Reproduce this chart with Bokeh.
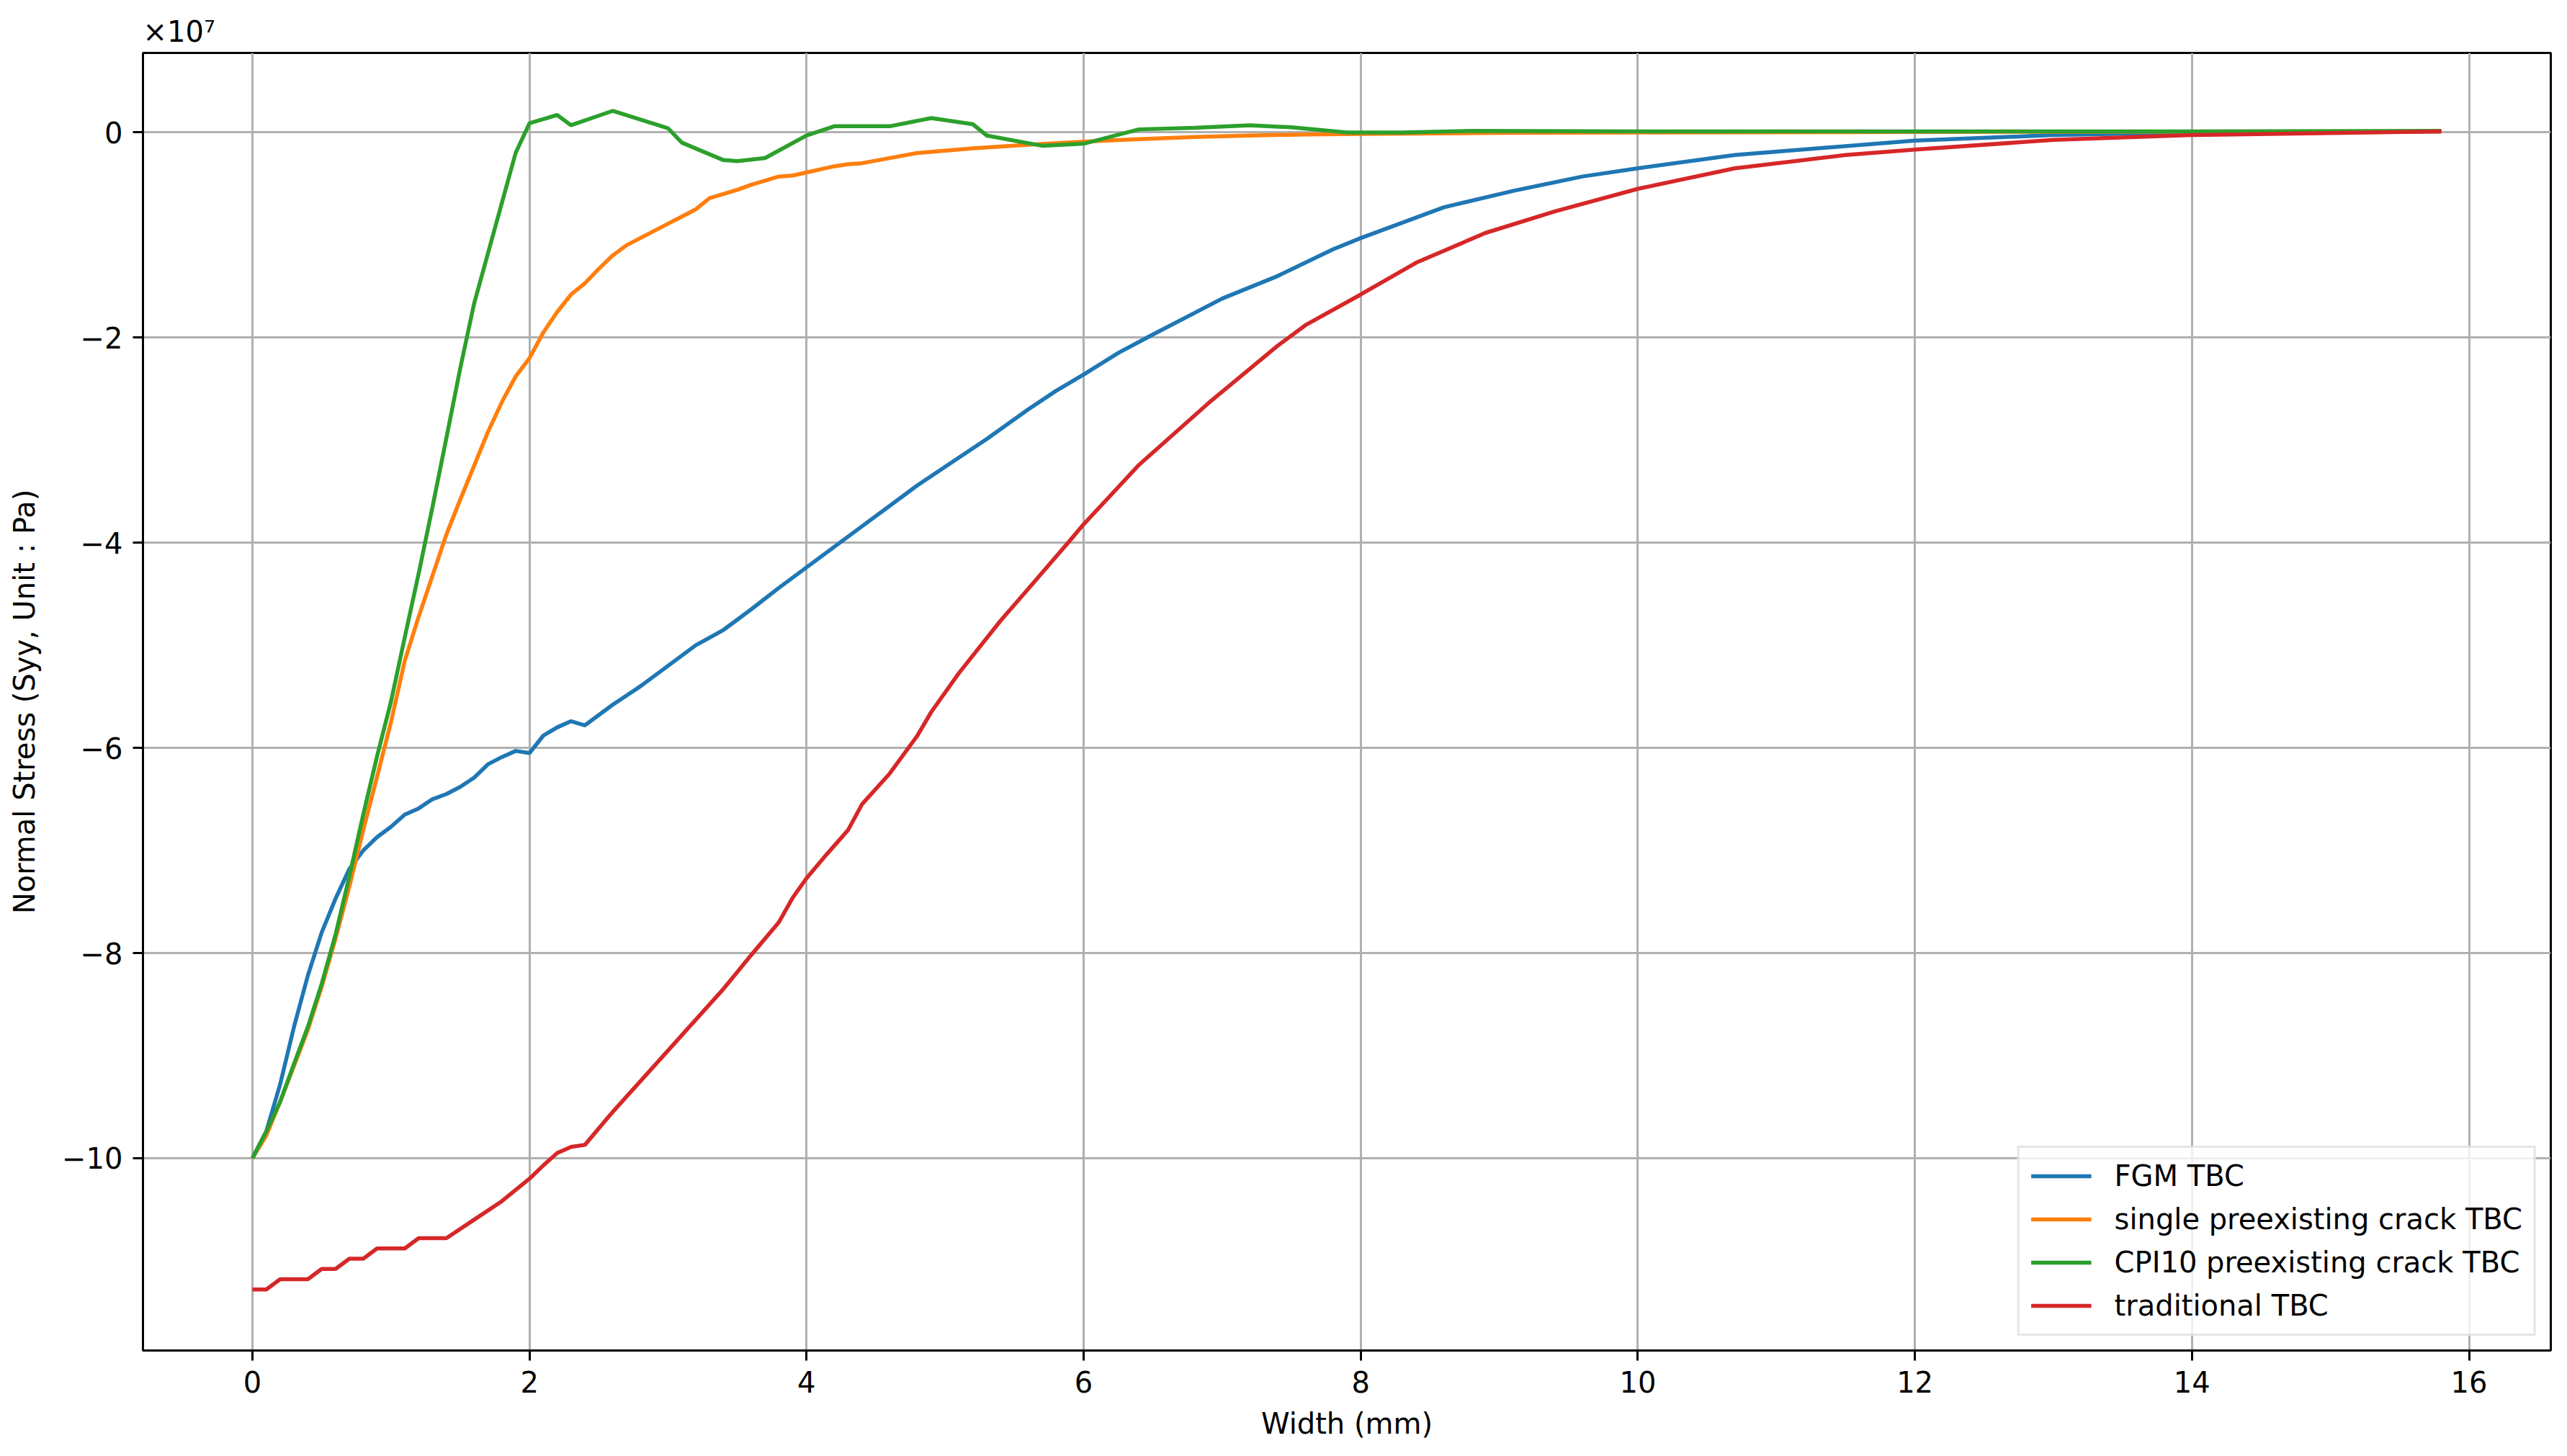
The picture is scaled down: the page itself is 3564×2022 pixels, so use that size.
from bokeh.plotting import figure
from bokeh.models import Range1d, FixedTicker, Legend, LegendItem, Title
from bokeh.embed import file_html
from bokeh.resources import INLINE

# Values in units of 1e7 Pa, x in mm
x_fgm = [0, 0.1, 0.2, 0.3, 0.4, 0.5, 0.6, 0.7, 0.8, 0.9, 1.0, 1.1, 1.2, 1.3, 1.4, 1.5, 1.6, 1.7, 1.8, 1.9,
         2.0, 2.1, 2.2, 2.3, 2.4, 2.5, 2.6, 2.7, 2.8, 2.9, 3.0, 3.2, 3.4, 3.6, 3.8, 4.0, 4.2, 4.4, 4.6, 4.8,
         5.0, 5.3, 5.6, 5.8, 6.0, 6.25, 6.5, 6.8, 7.0, 7.4, 7.8, 8.0, 8.6, 9.1, 9.6, 10.0, 10.7, 12.0, 13.0,
         14.0, 15.0, 15.8]
y_fgm = [-10.0, -9.74, -9.28, -8.72, -8.22, -7.80, -7.47, -7.18, -7.00, -6.87, -6.77, -6.65, -6.59, -6.50,
         -6.45, -6.38, -6.29, -6.16, -6.09, -6.03, -6.05, -5.88, -5.80, -5.74, -5.78, -5.68, -5.58, -5.49,
         -5.40, -5.30, -5.20, -5.00, -4.85, -4.65, -4.44, -4.24, -4.04, -3.84, -3.64, -3.44, -3.26, -2.99,
         -2.70, -2.52, -2.36, -2.15, -1.97, -1.76, -1.62, -1.40, -1.14, -1.03, -0.73, -0.57, -0.43, -0.35,
         -0.22, -0.08, -0.026, 0.0, 0.005, 0.01]

x_single = [0, 0.1, 0.2, 0.3, 0.4, 0.5, 0.6, 0.7, 0.8, 0.9, 1.0, 1.1, 1.2, 1.3, 1.4, 1.5, 1.6, 1.7, 1.8, 1.9,
            2.0, 2.1, 2.2, 2.3, 2.4, 2.5, 2.6, 2.7, 2.8, 2.9, 3.0, 3.1, 3.2, 3.3, 3.4, 3.5, 3.6, 3.7, 3.8, 3.9,
            4.0, 4.2, 4.3, 4.4, 4.8, 5.2, 5.6, 6.0, 6.4, 6.8, 7.2, 7.6, 8.0, 9.0, 10.0, 12.0, 14.0, 15.8]
y_single = [-10.0, -9.78, -9.45, -9.10, -8.75, -8.33, -7.86, -7.35, -6.80, -6.28, -5.75, -5.15, -4.72, -4.32,
            -3.92, -3.58, -3.25, -2.92, -2.63, -2.38, -2.20, -1.95, -1.75, -1.58, -1.47, -1.33, -1.20, -1.10,
            -1.03, -0.96, -0.89, -0.82, -0.75, -0.64, -0.60, -0.56, -0.51, -0.47, -0.43, -0.42, -0.39, -0.33,
            -0.31, -0.30, -0.20, -0.155, -0.12, -0.09, -0.065, -0.045, -0.03, -0.02, -0.015, -0.005, 0.0,
            0.005, 0.008, 0.01]

x_cpi = [0, 0.1, 0.2, 0.3, 0.4, 0.5, 0.6, 0.7, 0.8, 0.9, 1.0, 1.1, 1.2, 1.3, 1.4, 1.5, 1.6, 1.9, 2.0, 2.2,
         2.3, 2.6, 3.0, 3.1, 3.4, 3.5, 3.7, 4.0, 4.2, 4.6, 4.9, 5.2, 5.3, 5.7, 6.0, 6.4, 6.8, 7.2, 7.5, 7.9,
         8.3, 8.8, 10.0, 12.0, 14.0, 15.8]
y_cpi = [-10.0, -9.74, -9.45, -9.08, -8.72, -8.30, -7.82, -7.25, -6.65, -6.08, -5.55, -4.92, -4.30, -3.65,
         -2.98, -2.30, -1.67, -0.20, 0.09, 0.17, 0.07, 0.21, 0.04, -0.10, -0.27, -0.28, -0.25, -0.03, 0.06,
         0.06, 0.14, 0.08, -0.03, -0.13, -0.11, 0.03, 0.045, 0.07, 0.05, 0.0, 0.0, 0.015, 0.01, 0.01, 0.01,
         0.015]

x_trad = [0, 0.1, 0.2, 0.3, 0.4, 0.5, 0.6, 0.7, 0.8, 0.9, 1.0, 1.1, 1.2, 1.3, 1.4, 1.6, 1.8, 2.0, 2.1, 2.2,
          2.3, 2.4, 2.6, 2.8, 3.0, 3.2, 3.4, 3.6, 3.8, 3.9, 4.0, 4.15, 4.3, 4.4, 4.6, 4.8, 4.9, 5.1, 5.4, 5.6,
          5.9, 6.0, 6.4, 6.9, 7.4, 7.6, 8.0, 8.4, 8.9, 9.4, 10.0, 10.7, 11.5, 12.0, 13.0, 14.0, 15.8]
y_trad = [-11.28, -11.28, -11.18, -11.18, -11.18, -11.08, -11.08, -10.98, -10.98, -10.88, -10.88, -10.88,
          -10.78, -10.78, -10.78, -10.60, -10.42, -10.20, -10.07, -9.95, -9.89, -9.87, -9.55, -9.25, -8.95,
          -8.65, -8.35, -8.02, -7.70, -7.46, -7.27, -7.03, -6.80, -6.55, -6.25, -5.88, -5.65, -5.27, -4.76,
          -4.45, -3.98, -3.82, -3.24, -2.64, -2.08, -1.88, -1.58, -1.27, -0.98, -0.77, -0.55, -0.35, -0.22,
          -0.167, -0.073, -0.026, 0.01]

series_names = ["FGM TBC", "single preexisting crack TBC", "CPI10 preexisting crack TBC", "traditional TBC"]
series_colors = ["#1f77b4", "#ff7f0e", "#2ca02c", "#d62728"]
x_ticks = [0, 2, 4, 6, 8, 10, 12, 14, 16]
y_ticks = [-10, -8, -6, -4, -2, 0]

FONT = "DejaVu Sans"
FS = "40px"

p = figure(width=3548, height=2006, output_backend="svg", toolbar_location=None,
           x_range=Range1d(-0.79, 16.59), y_range=Range1d(-11.875, 0.775),
           min_border_left=198, min_border_right=7, min_border_top=73, min_border_bottom=131,
           background_fill_color="white", border_fill_color="white")

p.outline_line_color = "black"
p.outline_line_width = 3

p.xaxis.ticker = FixedTicker(ticks=x_ticks)
p.yaxis.ticker = FixedTicker(ticks=y_ticks)
p.yaxis.major_label_overrides = {t: ("−" + str(abs(t)) if t < 0 else str(t)) for t in y_ticks}

for ax in (p.xaxis, p.yaxis):
    ax.axis_line_width = 3
    ax.axis_line_color = "black"
    ax.major_tick_line_width = 3
    ax.major_tick_out = 14
    ax.major_tick_in = 0
    ax.minor_tick_line_color = None
    ax.major_label_text_font = FONT
    ax.major_label_text_font_size = FS
    ax.major_label_text_color = "black"
    ax.major_label_standoff = 14
    ax.axis_label_text_font = FONT
    ax.axis_label_text_font_size = FS
    ax.axis_label_text_font_style = "normal"
    ax.axis_label_text_color = "black"

p.xaxis.axis_label = "Width (mm)"
p.yaxis.axis_label = "Normal Stress (Syy, Unit : Pa)"
p.xaxis.axis_label_standoff = 17
p.yaxis.axis_label_standoff = 26

p.grid.grid_line_color = "#b0b0b0"
p.grid.grid_line_width = 3

xs = [x_fgm, x_single, x_cpi, x_trad]
ys = [y_fgm, y_single, y_cpi, y_trad]
items = []
for name, col, xv, yv in zip(series_names, series_colors, xs, ys):
    r = p.line(xv, yv, line_color=col, line_width=5.5)
    items.append(LegendItem(label=name, renderers=[r]))

legend = Legend(items=items, location="bottom_right")
legend.margin = 20
legend.padding = 16
legend.spacing = 14
legend.glyph_width = 84
legend.glyph_height = 38
legend.label_height = 38
legend.label_standoff = 32
legend.label_text_font = FONT
legend.label_text_font_size = FS
legend.label_text_color = "black"
legend.border_line_color = "#cccccc"
legend.border_line_width = 3
legend.background_fill_alpha = 0.8
p.add_layout(legend)

offset_title = Title(text="×10⁷", align="left", text_font=FONT, text_font_size=FS,
                     text_font_style="normal", text_color="black", standoff=14)
p.add_layout(offset_title, "above")

open("out.html", "w").write(file_html(p, INLINE))
